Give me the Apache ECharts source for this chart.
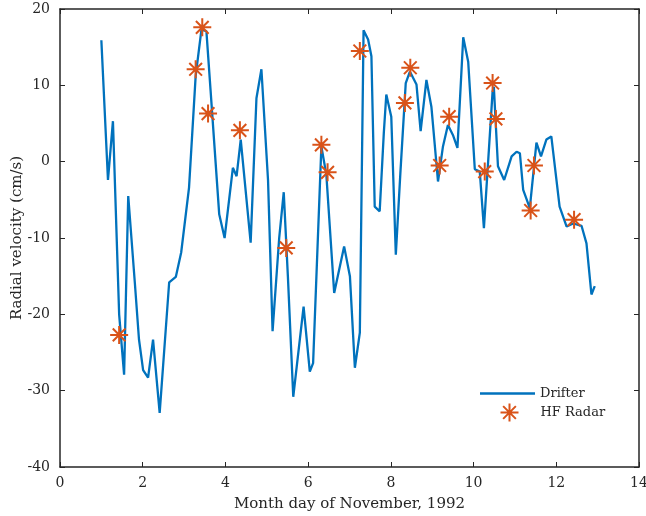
<!DOCTYPE html>
<html>
<head>
<meta charset="utf-8">
<script src="https://cdn.jsdelivr.net/npm/echarts@6/dist/echarts.min.js"></script>
<style>html,body{margin:0;padding:0;background:#fff}#c{width:646px;height:516px}</style>
</head>
<body>
<div id="c"></div>
<script>
const drifterX = [1.00,1.16,1.28,1.43,1.55,1.65,1.81,1.91,2.01,2.13,2.25,2.41,2.64,2.80,2.93,3.12,3.28,3.42,3.54,3.64,3.85,3.98,4.18,4.27,4.37,4.61,4.75,4.87,5.03,5.14,5.30,5.41,5.51,5.64,5.89,6.04,6.12,6.32,6.44,6.63,6.87,7.01,7.13,7.25,7.34,7.45,7.53,7.61,7.73,7.77,7.83,7.89,8.01,8.12,8.23,8.36,8.46,8.62,8.72,8.86,8.98,9.14,9.26,9.38,9.50,9.61,9.75,9.87,10.03,10.15,10.25,10.46,10.49,10.59,10.74,10.92,11.04,11.12,11.20,11.36,11.52,11.63,11.76,11.88,12.08,12.25,12.41,12.61,12.73,12.85,12.93];
const drifterY = [15.9,-2.4,5.3,-20.0,-27.9,-4.5,-15.9,-23.3,-27.3,-28.3,-23.3,-32.9,-15.8,-15.1,-11.9,-3.4,11.2,17.3,17.1,9.4,-6.9,-10.0,-0.8,-1.9,2.9,-10.6,8.3,12.1,-2.4,-22.2,-10.0,-4.0,-15.0,-30.8,-19.0,-27.5,-26.4,2.0,-1.7,-17.2,-11.1,-15.0,-27.0,-22.4,17.2,16.0,13.8,-5.9,-6.5,-6.3,3.8,8.8,5.9,-12.2,-1.5,10.3,11.8,10.1,4.0,10.7,7.2,-2.6,2.0,4.8,3.5,1.8,16.3,13.1,-1.0,-1.3,-8.7,9.2,9.8,-0.6,-2.4,0.7,1.3,1.1,-3.7,-6.1,2.5,0.7,2.9,3.3,-5.9,-8.5,-8.1,-8.4,-10.7,-17.4,-16.3];
const radarX = [1.43,3.28,3.44,3.58,4.35,5.47,6.32,6.47,7.25,8.34,8.47,9.18,9.41,10.27,10.46,10.54,11.38,11.46,12.43];
const radarY = [-22.7,12.1,17.6,6.3,4.1,-11.3,2.2,-1.4,14.5,7.7,12.3,-0.5,5.9,-1.3,10.3,5.6,-6.4,-0.5,-7.6];
const xTicks = [0,2,4,6,8,10,12,14];
const yTicks = [-40,-30,-20,-10,0,10,20];

const axisColor = '#262626';
const fontFam = 'DejaVu Serif';
const star = 'path://M0,-10L0,10M-10,0L10,0M-7.07,-7.07L7.07,7.07M-7.07,7.07L7.07,-7.07';

const chart = echarts.init(document.getElementById('c'), null, {renderer: 'canvas'});
const baseX = {type:'value', min: xTicks[0], max: xTicks[xTicks.length-1], interval: 2};
const baseY = {type:'value', min: yTicks[0], max: yTicks[yTicks.length-1], interval: 10};
chart.setOption({
  backgroundColor: '#fff',
  animation: false,
  grid: {left: 60, right: 7, top: 9, bottom: 49, containLabel: false, outerBoundsMode: 'none'},
  xAxis: [
    Object.assign({}, baseX, {
      position: 'bottom',
      name: 'Month day of November, 1992', nameLocation: 'middle', nameGap: 30,
      nameTextStyle: {color: axisColor, fontFamily: fontFam, fontSize: 15},
      axisLine: {show: true, onZero: false, lineStyle: {color: axisColor, width: 1.5}},
      axisTick: {show: true, inside: true, length: 5, lineStyle: {color: axisColor}},
      axisLabel: {color: axisColor, fontFamily: fontFam, fontSize: 14, margin: 9},
      splitLine: {show: false}
    }),
    Object.assign({}, baseX, {
      position: 'top',
      axisLine: {show: true, onZero: false, lineStyle: {color: axisColor, width: 1.5}},
      axisTick: {show: true, inside: true, length: 5, lineStyle: {color: axisColor}},
      axisLabel: {show: false}, splitLine: {show: false}
    })
  ],
  yAxis: [
    Object.assign({}, baseY, {
      position: 'left',
      name: 'Radial velocity (cm/s)', nameLocation: 'middle', nameGap: 35, nameRotate: 90,
      nameMoveOverlap: false,
      nameTextStyle: {color: axisColor, fontFamily: fontFam, fontSize: 15},
      axisLine: {show: true, onZero: false, lineStyle: {color: axisColor, width: 1.5}},
      axisTick: {show: true, inside: true, length: 5, lineStyle: {color: axisColor}},
      axisLabel: {color: axisColor, fontFamily: fontFam, fontSize: 14, margin: 10},
      splitLine: {show: false}
    }),
    Object.assign({}, baseY, {
      position: 'right',
      axisLine: {show: true, onZero: false, lineStyle: {color: axisColor, width: 1.5}},
      axisTick: {show: true, inside: true, length: 5, lineStyle: {color: axisColor}},
      axisLabel: {show: false}, splitLine: {show: false}
    })
  ],
  legend: [
    {
      data: [{name: 'Drifter', icon: 'rect'}], orient: 'vertical', left: 480, top: 387, padding: 0,
      itemWidth: 55, itemHeight: 2.5, itemGap: 0,
      itemStyle: {color: '#0072BD', borderWidth: 0},
      textStyle: {color: axisColor, fontFamily: fontFam, fontSize: 13}
    },
    {
      data: [{name: 'HF Radar', icon: star}], orient: 'vertical', left: 498, top: 401, padding: 0,
      itemWidth: 18, itemHeight: 18,
      itemStyle: {color: 'none', borderColor: '#D95319', borderWidth: 2},
      textStyle: {color: axisColor, fontFamily: fontFam, fontSize: 13, padding: [0,0,0,17]}
    }
  ],
  series: [
    {
      name: 'Drifter', type: 'line', xAxisIndex: 0, yAxisIndex: 0,
      data: drifterX.map((x, i) => [x, drifterY[i]]),
      showSymbol: false, symbol: 'none',
      lineStyle: {color: '#0072BD', width: 2.3},
      itemStyle: {color: '#0072BD'},
      z: 2
    },
    {
      name: 'HF Radar', type: 'scatter', xAxisIndex: 0, yAxisIndex: 0,
      data: radarX.map((x, i) => [x, radarY[i]]),
      symbol: star, symbolSize: 18,
      itemStyle: {color: 'none', borderColor: '#D95319', borderWidth: 2, opacity: 1},
      z: 3
    }
  ]
});
</script>
</body>
</html>
